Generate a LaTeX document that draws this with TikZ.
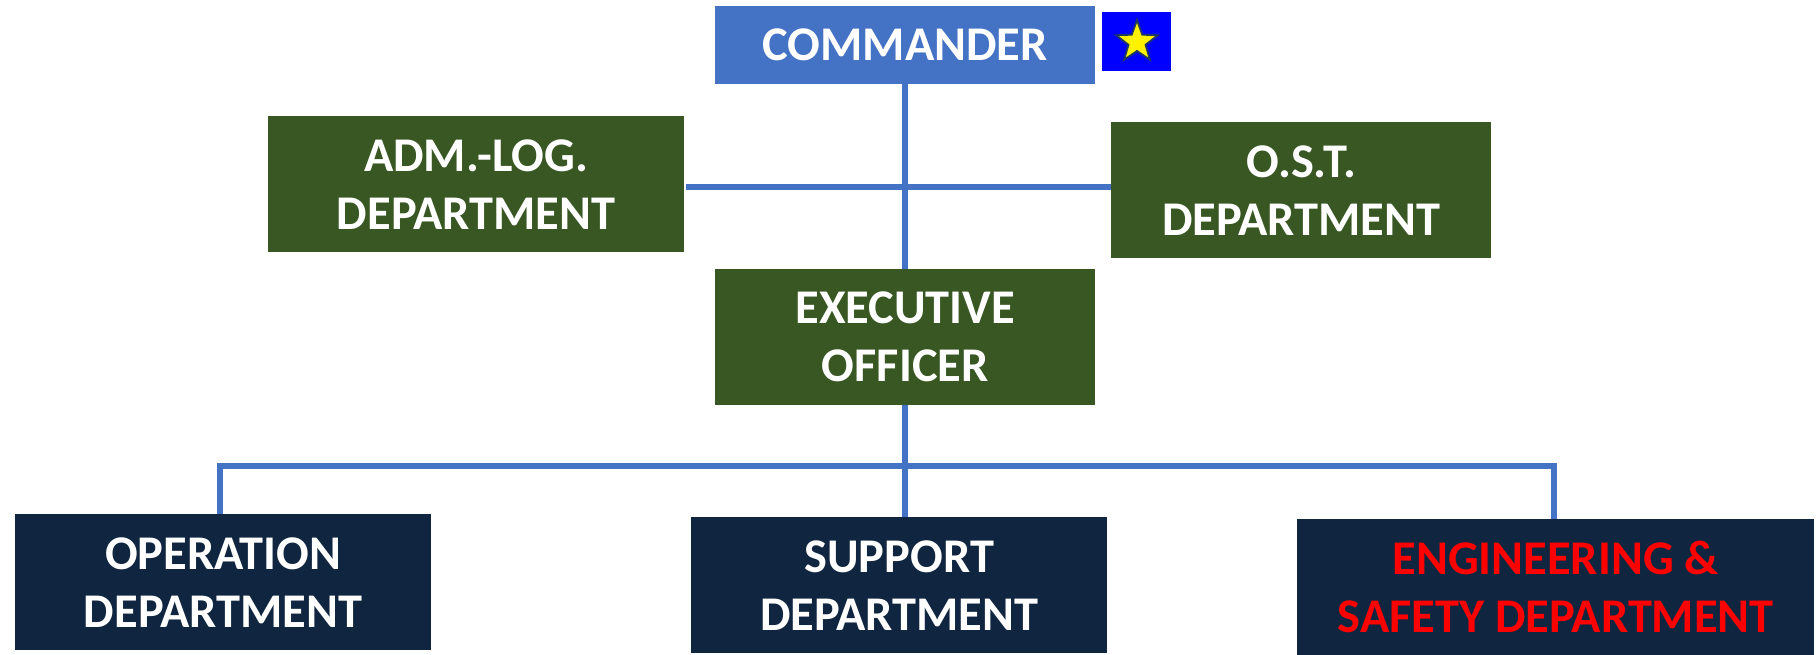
\documentclass[tikz,border=0pt]{standalone}
\usepackage{fontspec}
\setmainfont{Carlito}
\usetikzlibrary{shapes.geometric}
\definecolor{cmd}{HTML}{4472C4}
\definecolor{grn}{HTML}{385723}
\definecolor{nvy}{HTML}{10253F}
\tikzset{x=1pt,y=-1pt,
 box/.style={draw=none,inner sep=0pt,align=center,text=white,anchor=north west,minimum height=136pt,font=\fontsize{48.4}{58}\selectfont\bfseries},
 conn/.style={draw=cmd,line width=6pt,line join=miter}}
\begin{document}
\begin{tikzpicture}
\useasboundingbox (0,0) rectangle (1817,654);
\fill[white] (0,0) rectangle (1817,654);
\coordinate (cross) at (905,187);
\coordinate (al) at (686,187);
\coordinate (bl) at (220,466);
\coordinate (bm) at (905,466);
\coordinate (br) at (1554,466);
\draw[conn] (al) -- (cross);
\node[box,fill=cmd,minimum width=380pt,minimum height=78pt] (c) at (715,6) {\raisebox{-1pt}{COMMANDER}};
\node[draw=none,fill=blue,minimum width=69pt,minimum height=59pt,inner sep=0pt,anchor=north west] (flag) at (1102,12) {};
\node[star,star points=5,star point ratio=2.45,fill=yellow,draw={rgb,255:red,31;green,56;blue,100},line width=1.8pt,minimum size=44pt,inner sep=0pt] (st) at (1137,42) {};
\node[box,fill=grn,minimum width=416pt] (a) at (268,116) {ADM.-LOG.\\DEPARTMENT};
\node[box,fill=grn,minimum width=380pt] (o) at (1111,122) {O.S.T.\\DEPARTMENT};
\node[box,fill=grn,minimum width=380pt] (e) at (715,269) {EXECUTIVE\\OFFICER};
\node[box,fill=nvy,minimum width=416pt] (op) at (15,514) {OPERATION\\DEPARTMENT};
\node[box,fill=nvy,minimum width=416pt] (s) at (691,517) {SUPPORT\\DEPARTMENT};
\node[box,fill=nvy,text=red,minimum width=517pt] (en) at (1297,519) {ENGINEERING \&\\SAFETY DEPARTMENT};
\draw[conn] (c.south) -- (e.north);
\draw[conn] (cross) -- (o.west |- cross);
\draw[conn] (e.south) -- (s.north -| e.south);
\draw[conn] (op.north -| bl) -- (bl) -- (br) -- (en.north -| br);
\end{tikzpicture}
\end{document}
